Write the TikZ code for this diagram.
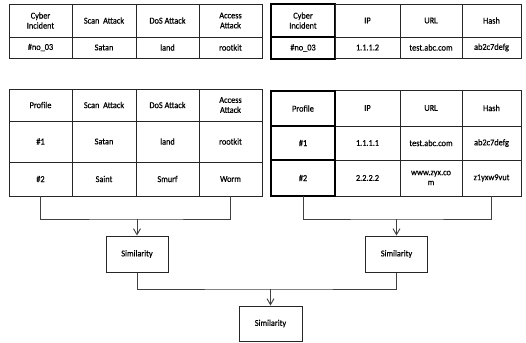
\documentclass[tikz,border=0pt]{standalone}
\usepackage{fontspec}
\setmainfont{Carlito}[FakeStretch=0.92,FakeBold=0.5]
\usetikzlibrary{arrows.meta}

% cellbox{name}{x1}{y1}{x2}{y2}{text}: a ruled table cell spanning the given corners
\newcommand{\cellbox}[7][]{%
  \node[cell,#1,minimum width={(#5-#3)*1bp},minimum height={(#6-#4)*1bp}]
    (#2) at ({(#3+#5)/2},{(#4+#6)/2}) {#7};}

\begin{document}
\begin{tikzpicture}[x=1bp,y=-1bp,
  font=\fontsize{9bp}{10bp}\selectfont,
  cell/.style={draw=black!85,line width=0.8bp,inner sep=0pt,outer sep=0pt,align=center},
  keycell/.style={line width=1.1bp,draw=black},
  simbox/.style={draw=black!85,line width=1bp,minimum width=62bp,minimum height=36bp,inner sep=0pt},
  link/.style={draw=black!75,line width=0.9bp},
  arr/.style={link,-{Straight Barb[length=6bp,width=7bp]}}]
\useasboundingbox[fill=white] (0,0) rectangle (526,342);

% incident: attack types
\cellbox{ta1}{9}{4}{72}{37}{Cyber\\Incident}
\cellbox{ta2}{72}{4}{136}{37}{Scan\ \ Attack}
\cellbox{ta3}{136}{4}{199}{37}{DoS Attack}
\cellbox{ta4}{199}{4}{262}{37}{Access\\Attack}
\cellbox{ta5}{9}{37}{72}{58}{\#no\_03}
\cellbox{ta6}{72}{37}{136}{58}{Satan}
\cellbox{ta7}{136}{37}{199}{58}{land}
\cellbox{ta8}{199}{37}{262}{58}{rootkit}

% incident: indicators
\cellbox[keycell]{tb1}{271}{4}{335}{37}{Cyber\\Incident}
\cellbox{tb2}{335}{4}{400}{37}{IP}
\cellbox{tb3}{400}{4}{462}{37}{URL}
\cellbox{tb4}{462}{4}{521}{37}{Hash}
\cellbox[keycell]{tb5}{271}{37}{335}{59}{\#no\_03}
\cellbox{tb6}{335}{37}{400}{58}{1.1.1.2}
\cellbox{tb7}{400}{37}{462}{58}{test.abc.com}
\cellbox{tb8}{462}{37}{521}{58}{ab2c7defg}

% profiles: attack types
\cellbox{ma1}{9}{89}{72}{121}{Profile}
\cellbox{ma2}{72}{89}{136}{121}{Scan\ \ Attack}
\cellbox{ma3}{136}{89}{199}{121}{DoS Attack}
\cellbox{ma4}{199}{89}{262}{121}{Access\\Attack}
\cellbox{ma5}{9}{121}{72}{162}{\#1}
\cellbox{ma6}{72}{121}{136}{162}{Satan}
\cellbox{ma7}{136}{121}{199}{162}{land}
\cellbox{ma8}{199}{121}{262}{162}{rootkit}
\cellbox{ma9}{9}{162}{72}{196}{\#2}
\cellbox{ma10}{72}{162}{136}{196}{Saint}
\cellbox{ma11}{136}{162}{199}{196}{Smurf}
\cellbox{ma12}{199}{162}{262}{196}{Worm}

% profiles: indicators
\cellbox{mb2}{335}{90}{400}{126}{IP}
\cellbox{mb3}{400}{90}{462}{126}{URL}
\cellbox{mb4}{462}{90}{521}{126}{Hash}
\cellbox{mb6}{335}{126}{400}{160}{1.1.1.1}
\cellbox{mb7}{400}{126}{462}{160}{test.abc.com}
\cellbox{mb8}{462}{126}{521}{160}{ab2c7defg}
\cellbox{mb10}{335}{160}{400}{196}{2.2.2.2}
\cellbox{mb11}{400}{160}{462}{196}{www.zyx.co\\m}
\cellbox{mb12}{462}{160}{521}{196}{z1yxw9vut}
\cellbox[keycell]{mb1}{271}{91}{335}{126}{Profile}
\cellbox[keycell]{mb5}{271}{126}{335}{160}{\#1}
\cellbox[keycell]{mb9}{271}{160}{335}{196}{\#2}

% similarity stages
\node[simbox] (sim1) at (137,254) {Similarity};
\node[simbox] (sim2) at (396.5,254) {Similarity};
\node[simbox,minimum width=63bp,minimum height=35bp] (sim3) at (270.5,323.5) {Similarity};

% brackets joining each profile table into its similarity step
\coordinate (ja) at (sim1.north |- 0,219);
\coordinate (jb) at (sim2.north |- 0,219);
\draw[link] (ma9.south) |- (ja) -| (ma12.south);
\draw[link] (mb9.south) |- (jb) -| (mb12.south);
\draw[arr] (ja) -- (sim1.north);
\draw[arr] (jb) -- (sim2.north);

% final combination
\coordinate (jc) at (sim3.north |- 0,289);
\draw[link] (sim1.south) |- (jc) -| (sim2.south);
\draw[arr] (jc) -- (sim3.north);
\end{tikzpicture}
\end{document}
